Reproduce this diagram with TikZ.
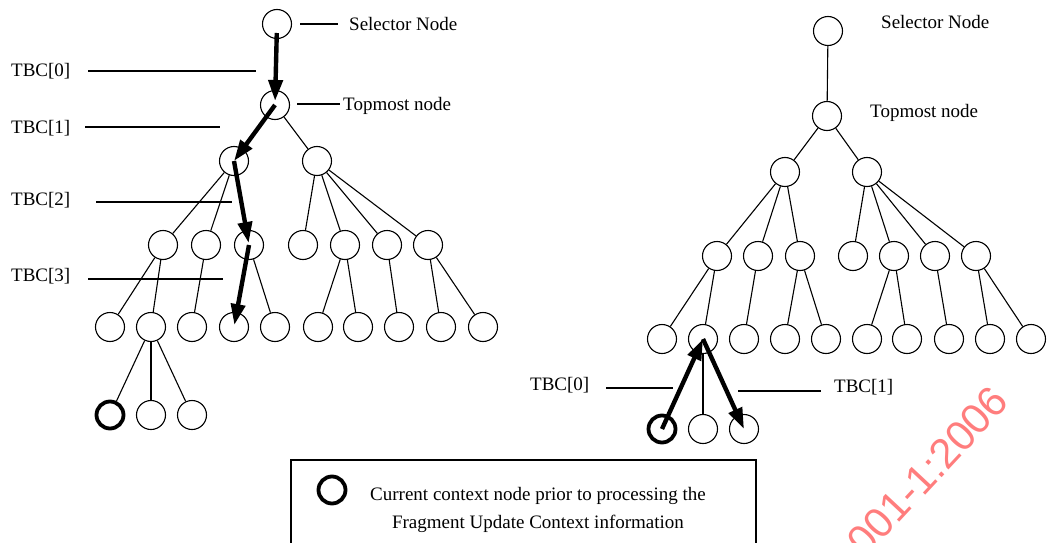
\documentclass[tikz,border=0pt]{standalone}
\usepackage{fontspec}
\setmainfont{Liberation Serif}
\newfontfamily\wmfont{Liberation Sans}
\usetikzlibrary{arrows.meta}
\begin{document}
\begin{tikzpicture}[x=1pt,y=-1pt,
  nd/.style={circle, draw, line width=1.1pt, minimum size=29pt, inner sep=0pt},
  cur/.style={circle, draw, line width=3.8pt, minimum size=27pt, inner sep=0pt},
  edg/.style={line width=1.1pt},
  lead/.style={line width=1.1pt},
  arr/.style={line width=4.4pt, -{Triangle[length=21pt,width=14pt]}},
  lab/.style={font=\fontsize{19}{23}\selectfont, inner sep=0pt, anchor=base west},
  wm/.style={font=\wmfont\fontsize{42}{46}\selectfont, text={rgb,255:red,255;green,125;blue,125}, inner sep=0pt}
]
\useasboundingbox (0,0) rectangle (1049,543);
\clip (0,0) rectangle (1049,543);

% ---------------- watermark ----------------
\node[wm, rotate=47, anchor=base east] (wmark) at (1011,403) {001-1:2006};

% ---------------- left tree ----------------
\node[nd] (LS) at (277,24) {};
\node[nd] (LT) at (275,105) {};
\node[nd] (LA) at (234,161) {};
\node[nd] (LB) at (317,161) {};
\foreach \n/\x in {a/163,b/206,c/249,d/303,e/345,f/387,g/428}
  \node[nd] (L3\n) at (\x,245) {};
\foreach \n/\x in {a/110,b/151,c/192,d/234,e/275,f/318,g/358,h/399,i/441,j/483}
  \node[nd] (L4\n) at (\x,327) {};
\node[cur] (L5a) at (110,415) {};
\node[nd] (L5b) at (151,415) {};
\node[nd] (L5c) at (192,415) {};

\draw[edg] (LT) -- (LB);
\draw[edg] (LA) -- (L3a);
\draw[edg] (LA) -- (L3b);
\foreach \c in {d,e,f,g} \draw[edg] (LB) -- (L3\c);
\draw[edg] (L3a) -- (L4a);
\draw[edg] (L3a) -- (L4b);
\draw[edg] (L3b) -- (L4c);
\draw[edg] (L3c) -- (L4e);
\draw[edg] (L3e) -- (L4f);
\draw[edg] (L3e) -- (L4g);
\draw[edg] (L3f) -- (L4h);
\draw[edg] (L3g) -- (L4i);
\draw[edg] (L3g) -- (L4j);
\draw[edg] (L4b) -- (L5a);
\draw[edg] (L4b) -- (L5b);
\draw[edg] (L4b) -- (L5c);

\draw[arr, shorten <=9pt, shorten >=4pt] (LS.center) -- (LT.center);
\draw[arr] (LT.center) -- (LA.center);
\draw[arr, shorten >=2pt] (LA.center) -- (L3c.center);
\draw[arr, shorten >=2pt] (L3c.center) -- (L4d.center);

% labels left
\draw[lead] (300,24) -- (338,24);
\node[lab] (lsel) at (349,31) {Selector Node};
\draw[lead] (297,104) -- (340,104);
\node[lab] (ltop) at (343,110) {Topmost node};
\node[lab] (t0) at (11,76) {TBC[0]};
\draw[lead] (88,71) -- (256,71);
\node[lab] (t1) at (11,133) {TBC[1]};
\draw[lead] (85,127) -- (220,127);
\node[lab] (t2) at (11,205) {TBC[2]};
\draw[lead] (96,202) -- (232,202);
\node[lab] (t3) at (11,281) {TBC[3]};
\draw[lead] (88,279) -- (223,279);

% ---------------- right tree ----------------
\node[nd] (RS) at (828,31) {};
\node[nd] (RT) at (827,116) {};
\node[nd] (RA) at (785,172) {};
\node[nd] (RB) at (867,172) {};
\foreach \n/\x in {a/717,b/758,c/800,d/853,e/894,f/935,g/976}
  \node[nd] (R3\n) at (\x,256) {};
\foreach \n/\x in {a/662,b/703,c/744,d/785,e/826,f/867,g/907,h/949,i/990,j/1031}
  \node[nd] (R4\n) at (\x,339) {};
\node[cur] (R5a) at (662,429) {};
\node[nd] (R5b) at (703,429) {};
\node[nd] (R5c) at (744,429) {};

\draw[edg] (RS) -- (RT);
\draw[edg] (RT) -- (RA);
\draw[edg] (RT) -- (RB);
\foreach \c in {a,b,c} \draw[edg] (RA) -- (R3\c);
\foreach \c in {d,e,f,g} \draw[edg] (RB) -- (R3\c);
\draw[edg] (R3a) -- (R4a);
\draw[edg] (R3a) -- (R4b);
\draw[edg] (R3b) -- (R4c);
\draw[edg] (R3c) -- (R4d);
\draw[edg] (R3c) -- (R4e);
\draw[edg] (R3e) -- (R4f);
\draw[edg] (R3e) -- (R4g);
\draw[edg] (R3f) -- (R4h);
\draw[edg] (R3g) -- (R4i);
\draw[edg] (R3g) -- (R4j);
\draw[edg] (R4b) -- (R5b);

\draw[arr] (R5a.center) -- (R4b.center);
\draw[arr] (R4b.center) -- (R5c.center);

% labels right
\node[lab] (rsel) at (881,29) {Selector Node};
\node[lab] (rtop) at (870,117) {Topmost node};
\node[lab] (r0) at (530,390) {TBC[0]};
\draw[lead] (606,388) -- (673,388);
\draw[lead] (738,391) -- (821,391);
\node[lab] (r1) at (834,392) {TBC[1]};

% ---------------- legend ----------------
\draw[line width=1.1pt] (291,460) rectangle (756,600);
\node[cur] (lg) at (332,490) {};
\node[font=\fontsize{19}{23}\selectfont, inner sep=0pt, anchor=base] (lgt1) at (538,500) {Current context node prior to processing the};
\node[font=\fontsize{19}{23}\selectfont, inner sep=0pt, anchor=base] (lgt2) at (538,528) {Fragment Update Context information};
\end{tikzpicture}
\end{document}
